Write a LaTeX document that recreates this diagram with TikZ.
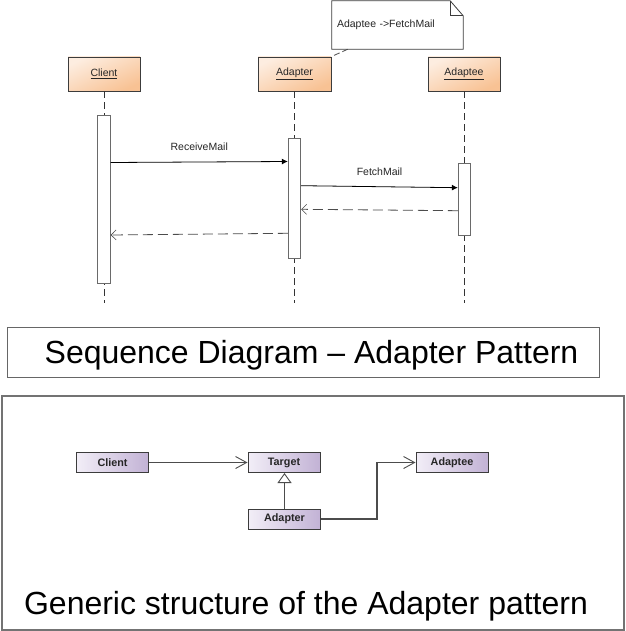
\documentclass[tikz,border=0pt]{standalone}
\usepackage{fontspec}
\setmainfont{Liberation Sans}
\usetikzlibrary{arrows.meta,calc}
\definecolor{orL}{HTML}{FDEDE0}
\definecolor{orD}{HTML}{F8C294}
\definecolor{puL}{HTML}{F2EEF7}
\definecolor{puD}{HTML}{C2B2D5}
\definecolor{bord}{HTML}{3C3C3C}
\definecolor{lgray}{HTML}{6A6A6A}
\tikzset{
  lifebox/.style={draw=bord, line width=0.9pt, top color=orL, bottom color=orD, shading angle=25,
    minimum width=72pt, minimum height=34pt, inner sep=0pt, font=\fontsize{10.5}{12}\selectfont, text=black!85},
  actbox/.style={draw=lgray, line width=0.9pt, fill=white, minimum width=12.5pt, inner sep=0pt},
  lifeline/.style={draw=black!80, line width=0.8pt, dash pattern=on 7pt off 4pt},
  callmsg/.style={draw=black, line width=0.8pt, -{Latex[length=6pt,width=6pt]}},
  retmsg/.style={draw=black!70, line width=0.8pt, dash pattern=on 10pt off 5pt, -{Straight Barb[length=5pt,width=10pt,line width=0.6pt]}},
  msglabel/.style={font=\fontsize{10.5}{12}\selectfont, text=black!85},
  classbox/.style={draw=bord, line width=1pt, left color=puL, right color=puD,
    minimum width=72pt, minimum height=20pt, inner sep=0pt, font=\bfseries\fontsize{10.8}{12}\selectfont, text=black!85},
  assoc/.style={draw=black!70, line width=1.1pt, -{Straight Barb[length=11pt,width=12pt,line width=0.9pt]}},
  inherit/.style={draw=black!70, line width=1.1pt, -{Triangle[open,length=10pt,width=14pt,line width=0.9pt,fill=white]}},
  framebox/.style={draw=black!60, line width=1pt, inner sep=0pt},
  bigtext/.style={font=\fontsize{32}{36}\selectfont, inner sep=0pt, anchor=base}
}
\begin{document}
\begin{tikzpicture}[x=1pt,y=-1pt]
\useasboundingbox (0,0) rectangle (625,631);
\fill[white] (0,0) rectangle (625,631);

% ---- Sequence diagram ----
\node[lifebox] (clbox) at (104,74) {\underline{Client}};
\node[lifebox, minimum width=73pt] (adbox) at (294.5,74) {\underline{Adapter}};
\node[lifebox] (aebox) at (464,74) {\underline{Adaptee}};

\coordinate (clend) at (104,303);
\coordinate (adend) at (294.5,303);
\coordinate (aeend) at (464.5,303);
\draw[lifeline] (clbox.south) -- (clend);
\draw[lifeline] (adbox.south) -- (adend);
\draw[lifeline] (aebox.south -| aeend) -- (aeend);

\node[actbox, minimum height=168pt] (clact) at (104,199) {};
\node[actbox, minimum height=120pt] (adact) at (294.5,198) {};
\node[actbox, minimum height=72pt] (aeact) at (464.5,199) {};

\draw[callmsg] ([yshift=36.5pt]clact.east) -- ([yshift=36.5pt]adact.west)
  node[msglabel, midway, yshift=15pt] (lbl1) {ReceiveMail};
\draw[callmsg] ([yshift=12.3pt]adact.east) -- ([yshift=11.3pt]aeact.west)
  node[msglabel, midway, yshift=15pt] (lbl2) {FetchMail};
\draw[retmsg] ([yshift=-11.7pt]aeact.west) -- ([yshift=-11.3pt]adact.east);
\draw[retmsg] ([yshift=-35.3pt]adact.west) -- ([yshift=-36pt]clact.east);

% note
\node[minimum width=131pt, minimum height=48pt, inner sep=0pt] (note) at (397.5,25) {};
\draw[draw=bord, line width=0.8pt, fill=white]
  (note.south west) -- (note.north west) -- ([xshift=-13pt]note.north east)
  -- ([yshift=-15pt]note.north east) -- (note.south east) -- cycle;
\draw[draw=bord, line width=0.7pt]
  ([xshift=-13pt]note.north east) -- ([xshift=-13pt,yshift=-15pt]note.north east) -- ([yshift=-15pt]note.north east);
\node[text width=121pt, align=left, inner xsep=5pt, inner ysep=0pt, minimum height=48pt,
  font=\fontsize{10.5}{12}\selectfont, text=black!85] (notetext) at (397.5,25) {Adaptee ->FetchMail};
\draw[draw=black!70, line width=0.8pt, dash pattern=on 6pt off 3pt] ([xshift=16pt]note.south west) -- (adbox.north east);

% ---- title box ----
\node[framebox, minimum width=592pt, minimum height=50pt] (titlebox) at (303,352) {};
\node[bigtext] (titletext) at (311.5,363.5) {Sequence Diagram – Adapter Pattern};

% ---- bottom box ----
\node[framebox, draw=black!55, line width=1.4pt, minimum width=622pt, minimum height=234pt] (genbox) at (313,513) {};
\node[bigtext] (gentext) at (306,614) {Generic structure of the Adapter pattern};

\node[classbox] (cclient) at (112.5,462.5) {Client};
\node[classbox] (ctarget) at (284,462.5) {Target};
\node[classbox] (cadaptee) at (452,462.5) {Adaptee};
\node[classbox] (cadapter) at (284.5,519) {Adapter};
\coordinate (bend) at (377,462.5);

\draw[assoc] (cclient.east) -- (ctarget.west);
\draw[inherit] (cadapter.north) -- (cadapter.north |- ctarget.south);
\draw[assoc] (cadapter.east) -| (bend) -- (cadaptee.west);
\end{tikzpicture}
\end{document}
